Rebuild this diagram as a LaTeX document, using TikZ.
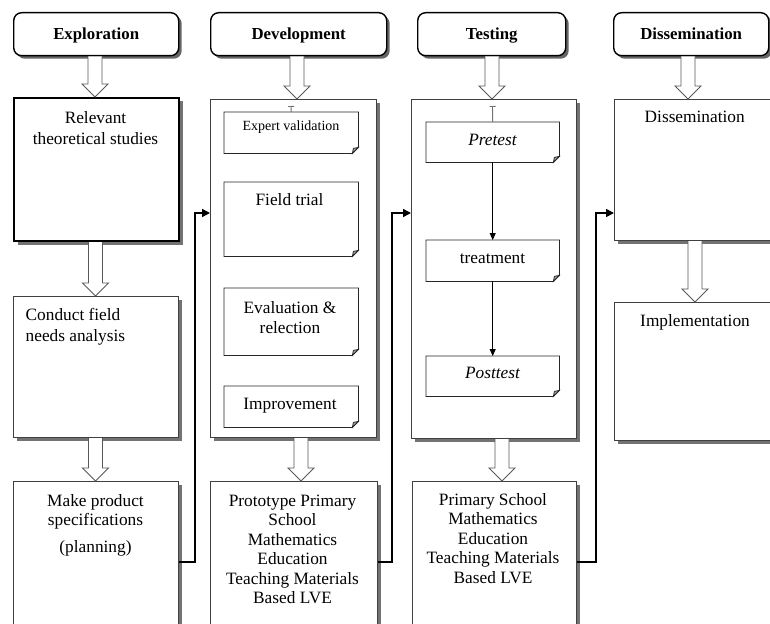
\documentclass[tikz,border=0pt]{standalone}
\usepackage{fontspec}
\setmainfont{Liberation Serif}
\usetikzlibrary{shadows,arrows.meta,calc}
\newcommand\myst{\rule{0pt}{13pt}}
\newcommand\harrow[3]{\filldraw[hollow] let \p1=(#2.south), \p2=(#3.north) in
  (#1pt-7pt,\y1) -- (#1pt-7pt,\y2+13pt) -- (#1pt-13pt,\y2+13pt) -- (#1pt,\y2)
  -- (#1pt+13pt,\y2+13pt) -- (#1pt+7pt,\y2+13pt) -- (#1pt+7pt,\y1);}
\newcommand\notefold[1]{%
  \draw[noteline] (#1.north west) -- (#1.north east) -- ([yshift=6pt]#1.south east)
    -- ([xshift=-6pt]#1.south east) -- (#1.south west) -- cycle;
  \filldraw[noteline, fill=black!35] ([yshift=6pt]#1.south east) -- ([xshift=-6pt]#1.south east)
    -- ([xshift=-5pt,yshift=5pt]#1.south east) -- cycle;}
\begin{document}
\begin{tikzpicture}[x=1pt,y=-1pt,
  hdr/.style={draw=black, line width=1.4pt, rounded corners=8pt, fill=white,
    drop shadow={shadow xshift=3pt, shadow yshift=-3pt, fill=black!60, opacity=1},
    font=\bfseries\fontsize{16.8}{19}\selectfont, text height=11pt, text depth=0pt,
    inner sep=0pt, anchor=north west, minimum height=43pt},
  mbox/.style={draw=black!75, line width=1pt, fill=white,
    drop shadow={shadow xshift=3.5pt, shadow yshift=-3.5pt, fill=black!55, opacity=1},
    inner sep=0pt, anchor=north west},
  nbox/.style={draw=none, fill=white, inner sep=0pt, anchor=north west, minimum width=134pt},
  noteline/.style={draw=black!85, line width=0.8pt},
  hollow/.style={draw=black!65, line width=0.9pt, fill=white},
  txt/.style={font=\fontsize{17.3}{19.5}\selectfont, align=center, inner sep=0pt, anchor=north},
  stxt/.style={font=\fontsize{14}{16}\selectfont, align=center, inner sep=0pt, anchor=north},
  conn/.style={draw=black, line width=1.6pt, -{Triangle[length=8pt,width=8pt]}},
  flow/.style={draw=black, line width=0.8pt, -{Triangle[length=7pt,width=6pt]}},
  tm/.style={draw=black!55, line width=0.9pt, {Bar[width=6pt]}-}]
\useasboundingbox (0,0) rectangle (770,623);

% headers
\node[hdr, minimum width=165pt] (h1) at (13,12) {Exploration};
\node[hdr, minimum width=176pt] (h2) at (210,12) {Development};
\node[hdr, minimum width=148pt] (h3) at (417,12) {Testing};
\node[hdr, minimum width=155pt] (h4) at (613,12) {Dissemination};

% exploration column
\node[mbox, draw=black, line width=2pt, minimum width=165pt, minimum height=143pt] (e1) at (13,97) {};
\node[mbox, minimum width=165pt, minimum height=141pt] (e2) at (13,296) {};
\node[mbox, minimum width=165pt, minimum height=150pt] (e3) at (13,481) {};
\node[txt] (e1t) at (95.5,110) {\myst Relevant\\[1.5pt]theoretical studies};
\node[txt, align=left, anchor=north west] (e2t) at (25.5,307) {\myst Conduct field\\[2pt]needs analysis};
\node[txt] (e3t) at (95.5,493) {\myst Make product\\specifications\\[7.5pt](planning)};

% development column
\node[mbox, minimum width=166pt, minimum height=338pt] (d0) at (210,99) {};
\node[nbox, minimum height=41pt] (di1) at (224,112) {};
\node[nbox, minimum height=74pt] (di2) at (224,182) {};
\node[nbox, minimum height=67pt] (di3) at (224,288) {};
\node[nbox, minimum height=41pt] (di4) at (224,386) {};
\notefold{di1}\notefold{di2}\notefold{di3}\notefold{di4}
\node[stxt] (di1t) at (291,117.7) {\myst Expert validation};
\node[txt] (di2t) at (289.5,192) {\myst Field trial};
\node[txt] (di3t) at (290,300) {\myst Evaluation \&\\[0.5pt]relection};
\node[txt] (di4t) at (290,396) {\myst Improvement};
\node[mbox, minimum width=167pt, minimum height=150pt] (d5) at (210,481) {};
\node[txt] (d5t) at (292.5,493) {\myst Prototype Primary\\School\\Mathematics\\Education\\Teaching Materials\\Based LVE};

% testing column
\node[mbox, minimum width=165pt, minimum height=339pt] (t0) at (411,99) {};
\node[nbox, minimum width=133pt, minimum height=40pt] (ti1) at (426,122) {};
\node[nbox, minimum width=133pt, minimum height=41pt] (ti2) at (426,240) {};
\node[nbox, minimum width=133pt, minimum height=40pt] (ti3) at (426,356) {};
\notefold{ti1}\notefold{ti2}\notefold{ti3}
\node[txt] (ti1t) at (492.5,132) {\myst\itshape Pretest};
\node[txt] (ti2t) at (492.5,250) {\myst treatment};
\node[txt] (ti3t) at (492.5,365) {\myst\itshape Posttest};
\node[mbox, minimum width=164pt, minimum height=150pt] (t4) at (412,481) {};
\node[txt] (t4t) at (493,492) {\myst Primary School\\Mathematics\\Education\\Teaching Materials\\Based LVE};

% dissemination column
\node[mbox, minimum width=162pt, minimum height=141pt] (s1) at (614,99) {};
\node[mbox, minimum width=162pt, minimum height=138pt] (s2) at (614,302) {};
\node[txt] (s1t) at (694.7,109) {\myst Dissemination};
\node[txt] (s2t) at (695,313) {\myst Implementation};

% hollow arrows
\harrow{95}{h1}{e1}
\harrow{297}{h2}{d0}
\harrow{492}{h3}{t0}
\harrow{688}{h4}{s1}
\harrow{95.5}{e1}{e2}
\harrow{95.5}{e2}{e3}
\harrow{301}{d0}{d5}
\harrow{502}{t0}{t4}
\harrow{695}{s1}{s2}

% T marks
\coordinate (m1) at (291,106);
\coordinate (m2) at (492.5,106);
\draw[tm] (m1) -- (di1.north);
\draw[tm] (m2) -- (ti1.north);

% testing flow
\draw[flow] (ti1.south) -- (ti2.north);
\draw[flow] (ti2.south) -- (ti3.north);

% connectors
\coordinate (k1) at (0,562);
\coordinate (j1) at (195,213);
\coordinate (j2) at (392,213);
\coordinate (j3) at (596,213);
\draw[conn] (e3.east |- k1) -| (j1) -- (d0.west |- j1);
\draw[conn] (d5.east |- k1) -| (j2) -- (t0.west |- j2);
\draw[conn] (t4.east |- k1) -| (j3) -- (s1.west |- j3);
\end{tikzpicture}
\end{document}
